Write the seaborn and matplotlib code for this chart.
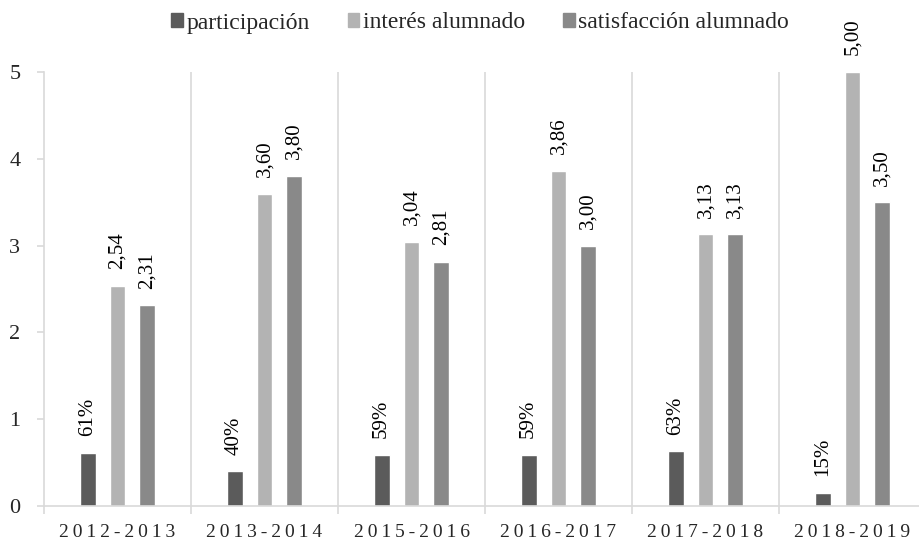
import matplotlib
matplotlib.use("Agg")
import matplotlib.pyplot as plt
import seaborn as sns
import pandas as pd
from matplotlib.patches import Patch

cursos = ["2012-2013", "2013-2014", "2015-2016", "2016-2017", "2017-2018", "2018-2019"]
participacion = [0.61, 0.40, 0.59, 0.59, 0.63, 0.15]
interes = [2.54, 3.60, 3.04, 3.86, 3.13, 5.00]
satisfaccion = [2.31, 3.80, 2.81, 3.00, 3.13, 3.50]
series = ["participación", "interés alumnado", "satisfacción alumnado"]
colores = ["#5b5b5b", "#b3b3b3", "#898989"]

rows = []
for i, c in enumerate(cursos):
    rows.append((c, series[0], participacion[i], f"{participacion[i]*100:.0f}%"))
    rows.append((c, series[1], interes[i], f"{interes[i]:.2f}".replace(".", ",")))
    rows.append((c, series[2], satisfaccion[i], f"{satisfaccion[i]:.2f}".replace(".", ",")))
df = pd.DataFrame(rows, columns=["curso", "serie", "valor", "etiqueta"])

sns.set_theme(style="white")
plt.rcParams["font.family"] = ["Liberation Serif", "DejaVu Serif"]

fig = plt.figure(figsize=(9.19, 5.43), dpi=100)
ax = fig.add_axes([44/919, 1 - 506/543, (926 - 44)/919, (506 - 72)/543])

sns.barplot(data=df, x="curso", y="valor", hue="serie", order=cursos, hue_order=series,
            palette=colores, width=0.61, gap=0.47, ax=ax, legend=False, saturation=1)

for cont, s in zip(ax.containers, series):
    labs = df[df.serie == s].set_index("curso").loc[cursos, "etiqueta"].tolist()
    ax.bar_label(cont, labels=labs, rotation=90, padding=12, fontsize=15, color="#000000")

ax.set_xlim(-0.5, len(cursos) - 0.5)
ax.set_ylim(0, 5)
ax.set_yticks([0, 1, 2, 3, 4, 5])
ax.set_yticklabels(["0", "1", "2", "3", "4", "5"], fontsize=16)
ax.set_xticks(range(len(cursos)))
ax.set_xticklabels(["\u2009".join(c) for c in cursos], fontsize=14)
ax.set_xlabel("")
ax.set_ylabel("")

for k in range(1, len(cursos)):
    ax.axvline(k - 0.5, color="#d9d9d9", lw=1.2, zorder=0)

for sp in ["top", "right"]:
    ax.spines[sp].set_visible(False)
for sp in ["left", "bottom"]:
    ax.spines[sp].set_color("#d9d9d9")
    ax.spines[sp].set_linewidth(1.2)

ax.tick_params(axis="y", length=5, color="#d9d9d9", width=1.2, pad=12, left=True)
ax.tick_params(axis="x", length=0, pad=13)
ax.set_xticks([k - 0.5 for k in range(len(cursos) + 1)], minor=True)
ax.tick_params(axis="x", which="minor", length=6, color="#d9d9d9", width=1.2, bottom=True)

handles = [Patch(color=c) for c in colores]
fig.legend(handles, series, loc="center", bbox_to_anchor=(480/919, 1 - 23/543), ncol=3,
           frameon=False, fontsize=17, handlelength=0.5, handleheight=0.5,
           handletextpad=0.15, columnspacing=1.6)

fig.savefig("out.png", dpi=100)
